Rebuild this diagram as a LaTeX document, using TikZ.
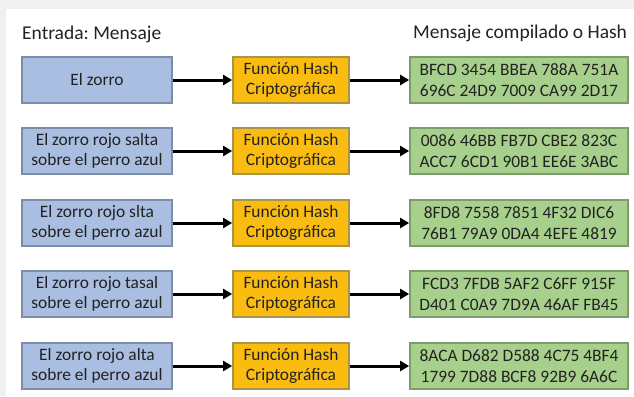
\documentclass[tikz,border=0pt]{standalone}
\usepackage{fontspec}
\setmainfont{Carlito}
\frenchspacing
\usetikzlibrary{arrows.meta}
\definecolor{bluefill}{HTML}{A9BEE0}
\definecolor{blueline}{HTML}{7D8DA8}
\definecolor{orangefill}{HTML}{FABC10}
\definecolor{orangeline}{HTML}{A8944A}
\definecolor{greenfill}{HTML}{A8D08D}
\definecolor{greenline}{HTML}{7E9B6C}
\definecolor{txt}{HTML}{222222}
\definecolor{framegray}{HTML}{F0F0F0}
\tikzset{
  box/.style={draw, line width=1.7pt, minimum height=46pt, inner sep=0pt,
    align=center, text=txt, font=\fontsize{17.4}{20.5}\selectfont},
  inbox/.style={box, fill=bluefill, draw=blueline, minimum width=150pt},
  hashbox/.style={box, fill=orangefill, draw=orangeline, minimum width=116pt},
  outbox/.style={box, fill=greenfill, draw=greenline, minimum width=218pt},
  conn/.style={line width=3pt, -{Triangle[length=9pt,width=10pt]}, black},
  heading/.style={anchor=base west, inner sep=0pt, text=txt, font=\fontsize{19.5}{22}\selectfont}
}
\begin{document}
\begin{tikzpicture}[x=1pt,y=-1pt]
\useasboundingbox (0,0) rectangle (634,396);
\fill[framegray] (0,0) rectangle (634,396);
\fill[white] (6,9) rectangle (634,396);
\node[heading] (t1) at (22,40) {Entrada: Mensaje};
\node[heading] (t2) at (413,39) {Mensaje compilado o Hash};
\foreach \i/\y/\a/\c in {
  1/80/{El zorro}/{BFCD 3454 BBEA 788A 751A\\696C 24D9 7009 CA99 2D17},
  2/151/{El zorro rojo salta\\sobre el perro azul}/{0086 46BB FB7D CBE2 823C\\ACC7 6CD1 90B1 EE6E 3ABC},
  3/223/{El zorro rojo slta\\sobre el perro azul}/{8FD8 7558 7851 4F32 DIC6\\76B1 79A9 0DA4 4EFE 4819},
  4/294/{El zorro rojo tasal\\sobre el perro azul}/{FCD3 7FDB 5AF2 C6FF 915F\\D401 C0A9 7D9A 46AF FB45},
  5/366/{El zorro rojo alta\\sobre el perro azul}/{8ACA D682 D588 4C75 4BF4\\1799 7D88 BCF8 92B9 6A6C}}
{
  \node[inbox] (in\i) at (97,\y) {\a};
  \node[hashbox] (h\i) at (291,\y) {Función Hash\\Criptográfica};
  \node[outbox] (out\i) at (519,\y) {\c};
  \draw[conn] (in\i) -- (h\i);
  \draw[conn] (h\i) -- (out\i);
}
\end{tikzpicture}
\end{document}
